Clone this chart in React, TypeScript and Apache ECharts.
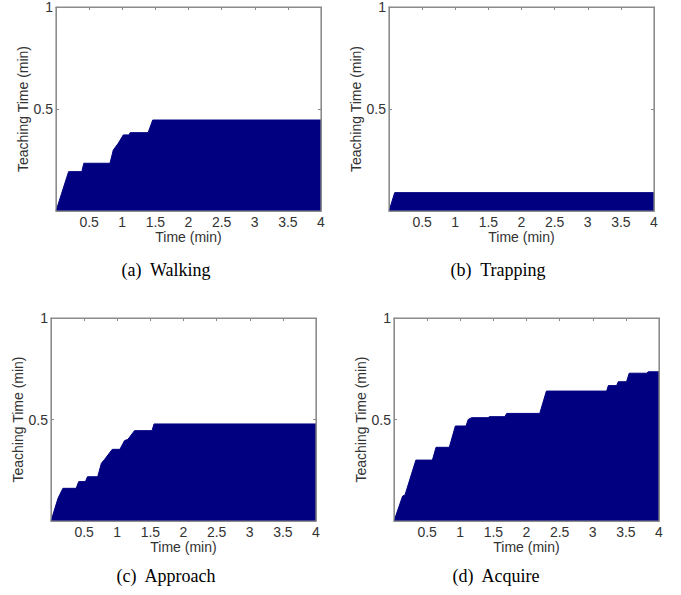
import React, { useEffect, useRef } from "react";
import * as echarts from "echarts";

const walking: number[][] = [[0,0],[0.19,0.193],[0.39,0.193],[0.42,0.234],[0.815,0.234],[0.865,0.299],[0.94,0.332],[1.016,0.373],[1.10,0.373],[1.12,0.384],[1.39,0.384],[1.46,0.446],[4,0.446]];
const trapping: number[][] = [[0,0],[0.086,0.09],[4,0.09]];
const approach: number[][] = [[0,0],[0.106,0.112],[0.18,0.161],[0.38,0.161],[0.418,0.194],[0.52,0.194],[0.55,0.218],[0.705,0.218],[0.76,0.284],[0.81,0.304],[0.925,0.353],[1.04,0.353],[1.11,0.396],[1.16,0.402],[1.26,0.445],[1.525,0.445],[1.555,0.478],[4,0.478]];
const acquire: number[][] = [[0,0],[0.13,0.123],[0.166,0.128],[0.33,0.30],[0.58,0.30],[0.634,0.363],[0.835,0.363],[0.926,0.468],[1.087,0.468],[1.12,0.50],[1.17,0.509],[1.42,0.509],[1.44,0.514],[1.675,0.514],[1.70,0.53],[2.20,0.53],[2.30,0.64],[3.21,0.64],[3.235,0.667],[3.36,0.667],[3.385,0.686],[3.51,0.686],[3.55,0.728],[3.81,0.728],[3.84,0.735],[4,0.735]];

const captions = ["(a)  Walking", "(b)  Trapping", "(c)  Approach", "(d)  Acquire"];
const xName = "Time (min)";
const yName = "Teaching Time (min)";

const grids = [
  { left: 56, top: 7, width: 265, height: 204, yGap: 24 },
  { left: 389, top: 7, width: 265, height: 204, yGap: 26 },
  { left: 51, top: 318, width: 265, height: 203, yGap: 26 },
  { left: 394, top: 318, width: 265, height: 203, yGap: 22 },
];
const captionPos = [[166, 270], [498, 270], [166, 576], [496, 576]];
const datasets = [walking, trapping, approach, acquire];

export default function App() {
  const ref = useRef<HTMLDivElement>(null);
  useEffect(() => {
    if (!ref.current) return;
    const chart = echarts.init(ref.current, undefined, { renderer: "svg" });
    const sans = "Liberation Sans";
    const lineCol = "#8c8c8c";
    const tickCol = "#888";
    const textCol = "#333";
    const xAxis: any[] = [];
    const yAxis: any[] = [];
    const series: any[] = [];
    grids.forEach((g, i) => {
      xAxis.push({
        type: "value", gridIndex: i, min: 0, max: 4, interval: 0.5, position: "bottom",
        axisLine: { show: true, onZero: false, lineStyle: { color: lineCol } },
        axisTick: { show: true, inside: true, length: 3, lineStyle: { color: tickCol } },
        axisLabel: { fontFamily: sans, fontSize: 14, color: textCol, margin: 4, formatter: (v: number) => (v === 0 ? "" : String(v)) },
        splitLine: { show: false },
        name: xName, nameLocation: "middle", nameGap: 16,
        nameTextStyle: { fontFamily: sans, fontSize: 14, color: textCol },
      });
      xAxis.push({
        type: "value", gridIndex: i, min: 0, max: 4, interval: 0.5, position: "top",
        axisLine: { show: true, onZero: false, lineStyle: { color: lineCol, width: 1 } },
        axisTick: { show: true, inside: true, length: 3, lineStyle: { color: tickCol } },
        axisLabel: { show: false }, splitLine: { show: false },
      });
      yAxis.push({
        type: "value", gridIndex: i, min: 0, max: 1, interval: 0.5, position: "left",
        axisLine: { show: true, onZero: false, lineStyle: { color: lineCol } },
        axisTick: { show: true, inside: true, length: 3, lineStyle: { color: tickCol } },
        axisLabel: { fontFamily: sans, fontSize: 14, color: textCol, margin: 3, formatter: (v: number) => (v === 0 ? "" : String(v)) },
        splitLine: { show: false },
        name: yName, nameLocation: "middle", nameGap: g.yGap,
        nameTextStyle: { fontFamily: sans, fontSize: 14, color: textCol },
      });
      yAxis.push({
        type: "value", gridIndex: i, min: 0, max: 1, interval: 0.5, position: "right",
        axisLine: { show: true, onZero: false, lineStyle: { color: lineCol, width: 1 } },
        axisTick: { show: true, inside: true, length: 3, lineStyle: { color: tickCol } },
        axisLabel: { show: false }, splitLine: { show: false },
      });
      series.push({
        type: "line", xAxisIndex: i * 2, yAxisIndex: i * 2, data: datasets[i],
        showSymbol: false, symbol: "none",
        lineStyle: { color: "#000080", width: 1 },
        areaStyle: { color: "#000080", opacity: 1 },
        z: 3,
      });
    });
    chart.setOption({
      animation: false,
      backgroundColor: "#fff",
      grid: grids.map((g) => ({ left: g.left, top: g.top, width: g.width, height: g.height })),
      xAxis, yAxis, series,
      graphic: [
        ...grids.map((g) => ({
          type: "rect", silent: true, z: 10,
          shape: { x: g.left, y: g.top, width: g.width, height: g.height },
          style: { fill: "transparent", stroke: lineCol, lineWidth: 1.2 },
        })),
        ...captions.map((c, i) => ({
          type: "text", x: captionPos[i][0], y: captionPos[i][1],
          style: { text: c, fontFamily: "Liberation Serif", fontSize: 18, fill: "#000", align: "center", verticalAlign: "middle" },
        })),
      ],
    });
    return () => chart.dispose();
  }, []);
  return <div ref={ref} style={{ position: "fixed", left: 0, top: 0, width: 681, height: 595 }} />;
}
